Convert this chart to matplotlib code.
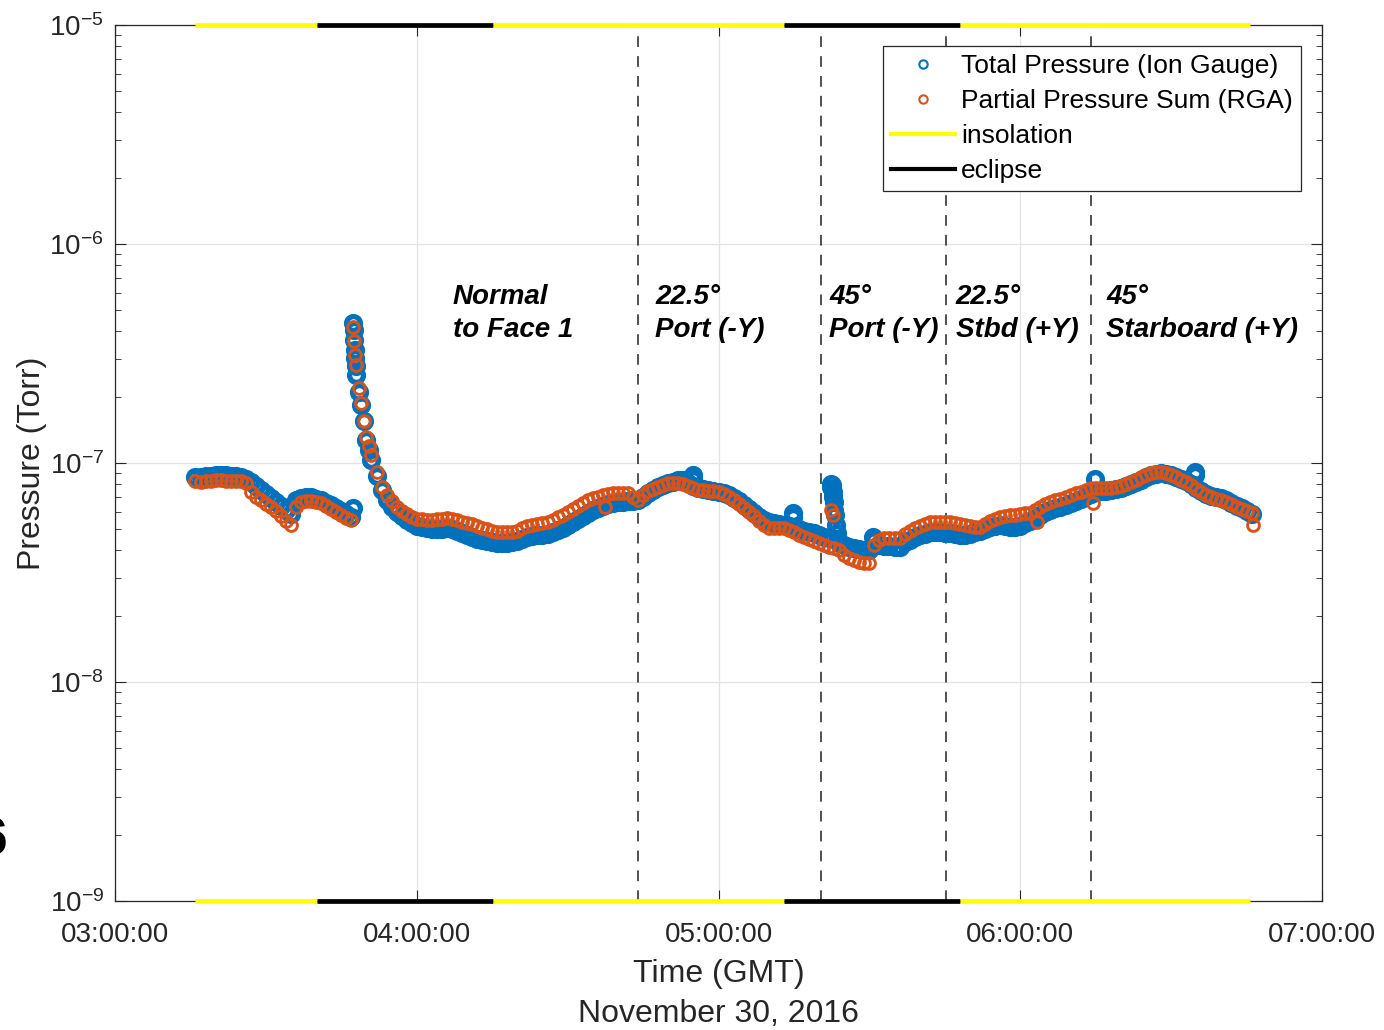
import numpy as np
import matplotlib.pyplot as plt
from matplotlib.lines import Line2D
from matplotlib.ticker import LogLocator, NullFormatter, FixedLocator

plt.rcParams['font.family'] = ['Liberation Sans', 'DejaVu Sans']
plt.rcParams['mathtext.fontset'] = 'custom'
plt.rcParams['mathtext.rm'] = 'Liberation Sans'
plt.rcParams['mathtext.it'] = 'Liberation Sans:italic'
plt.rcParams['mathtext.bf'] = 'Liberation Sans:bold'

# Время отсчитывается в минутах от 03:00:00, давление в единицах 1e-8 Торр
t_start = 16
t_end = 226

ion_gauge_a = [8.63, 8.63, 8.72, 8.72, 8.81, 8.81, 8.81, 8.72, 8.72, 8.63,
               8.45, 8.19, 7.85, 7.53, 7.22, 6.92, 6.63, 6.36, 6.10, 5.84,
               6.77, 6.92, 6.99, 6.99, 6.85, 6.77, 6.56, 6.43, 6.23, 6.03,
               5.84, 5.66]
ion_gauge_b = [25.2, 18.4, 12.7, 10.3, 8.72, 7.53, 6.77, 6.29, 5.97, 5.72,
               5.48, 5.31, 5.15, 5.09, 5.04, 4.99, 4.99, 4.99, 5.04, 4.99,
               4.88, 4.78, 4.68, 4.58, 4.49, 4.44, 4.39, 4.35, 4.30, 4.30,
               4.30, 4.35, 4.39, 4.49, 4.58, 4.63, 4.68, 4.68, 4.73, 4.83,
               4.93, 5.04, 5.20, 5.37, 5.54, 5.72, 5.90, 6.10, 6.23, 6.36,
               6.49, 6.56, 6.63, 6.63, 6.70, 6.70, 6.77, 6.99, 7.29, 7.53,
               7.77, 7.93, 8.10, 8.19, 8.36, 8.36, 8.10, 7.85, 7.69, 7.61,
               7.53, 7.45, 7.37, 7.29, 7.14, 6.92, 6.70, 6.43, 6.16, 5.90,
               5.66, 5.48, 5.37, 5.31, 5.26, 5.20, 5.15, 5.04, 4.99, 4.88,
               4.83, 4.78, 4.68, 4.58, 4.53, 6.10, 4.30, 4.21, 4.13, 4.08,
               4.04, 4.00, 4.00, 4.44, 4.21, 4.17, 4.17, 4.13, 4.13, 4.35,
               4.44, 4.58, 4.68, 4.73, 4.83, 4.83, 4.83, 4.78, 4.78, 4.73,
               4.68, 4.68, 4.73, 4.83, 4.88, 4.99, 5.09, 5.15, 5.20, 5.15,
               5.09, 5.09, 5.15, 5.31, 5.43, 5.60, 5.78, 5.97, 6.10, 6.23,
               6.29, 6.43, 6.56, 6.70, 6.85, 7.07, 7.22, 7.37, 7.45, 7.45,
               7.53, 7.61, 7.69, 7.85, 8.02, 8.19, 8.36, 8.63, 8.81, 8.91,
               9.00, 8.91, 8.81, 8.63, 8.45, 8.27, 8.02, 7.69, 7.45, 7.22,
               7.07, 6.99, 6.92, 6.77, 6.56, 6.36, 6.23, 6.03, 5.84]
# отдельные отсчёты: всплески и выбросы
ion_extra_t = [47.3, 47.4, 47.5, 47.6, 47.7, 47.8, 47.9, 48.5, 49.5, 50.5,
               114.9, 114.9, 134.8, 134.8, 142.3, 142.4, 142.5, 142.6, 142.7,
               142.8, 142.9, 143.2, 143.4, 143.6, 143.8, 150.7, 194.9, 214.8,
               214.8]
ion_extra_p = [6.23, 43.6, 40.5, 36.4, 32.8, 30.1, 27.7, 21.1, 15.5, 11.5,
               8.45, 8.81, 5.90, 5.66, 7.77, 8.02, 7.93, 7.69, 7.37,
               6.99, 6.63, 5.78, 5.20, 4.78, 4.44, 4.58, 8.45, 9.10,
               8.81]

rga_a = [8.27, 8.19, 8.27, 8.27, 8.36, 8.36, 8.27, 8.27, 8.27, 8.27,
         8.10, 7.37, 6.99, 6.77, 6.49, 6.29, 6.03, 5.72, 5.43, 5.20,
         6.29, 6.63, 6.70, 6.70, 6.63, 6.56, 6.36, 6.16, 5.97, 5.78,
         5.60, 5.48]
rga_b = [28.0, 18.8, 13.1, 10.9, 9.10, 7.77, 7.14, 6.70, 6.29, 6.03,
         5.84, 5.66, 5.54, 5.54, 5.48, 5.48, 5.54, 5.54, 5.60, 5.54,
         5.48, 5.37, 5.31, 5.26, 5.15, 5.04, 4.99, 4.88, 4.83, 4.83,
         4.83, 4.83, 4.88, 5.04, 5.15, 5.20, 5.26, 5.31, 5.37, 5.48,
         5.66, 5.78, 5.97, 6.16, 6.36, 6.56, 6.77, 6.92, 6.99, 7.14,
         7.22, 7.29, 7.29, 7.29, 7.29, 6.99, 6.77, 7.14, 7.45, 7.61,
         7.77, 7.93, 8.10, 8.10, 8.10, 8.02, 7.85, 7.69, 7.53, 7.53,
         7.45, 7.45, 7.37, 7.22, 6.99, 6.77, 6.49, 6.23, 5.97, 5.72,
         5.43, 5.20, 5.04, 5.04, 5.04, 5.04, 4.93, 4.83, 4.68, 4.58,
         4.49, 4.39, 4.30, 4.21, 4.13, 4.08, 4.00, 3.79, 3.68, 3.60,
         3.53, 3.49, 3.49, 4.21, 4.44, 4.53, 4.53, 4.53, 4.53, 4.73,
         4.88, 5.04, 5.15, 5.26, 5.37, 5.37, 5.37, 5.37, 5.37, 5.31,
         5.26, 5.20, 5.15, 5.09, 5.09, 5.26, 5.43, 5.54, 5.66, 5.72,
         5.78, 5.78, 5.84, 5.90, 5.90, 6.10, 6.29, 6.49, 6.63, 6.77,
         6.85, 6.99, 7.14, 7.29, 7.37, 7.53, 7.69, 7.69, 7.69, 7.69,
         7.69, 7.77, 7.85, 8.02, 8.19, 8.36, 8.63, 8.81, 9.00, 9.10,
         9.10, 9.00, 8.81, 8.63, 8.36, 8.19, 7.93, 7.61, 7.37, 7.14,
         6.99, 6.85, 6.77, 6.63, 6.49, 6.29, 6.16, 6.03, 5.90]
rga_extra_t = [47.4, 47.6, 47.8, 48.5, 49.5, 50.5, 97.4, 142.4, 142.7, 183.4, 194.5, 226.3]
rga_extra_p = [41.8, 36.0, 31.0, 22.0, 15.6, 12.0, 6.29, 6.10, 5.78, 5.37, 6.56, 5.20]

# освещённость / тень (минуты от 03:00)
sun_edges = [15.9, 40.2, 75.2, 133.0, 168.0, 225.7]
sun_state = ['insolation', 'eclipse', 'insolation', 'eclipse', 'insolation']

# смена ориентации
attitude_t = [104.0, 140.4, 165.2, 194.1]
attitude_labels = ['Normal\nto Face 1', '22.5°\nPort (-Y)', '45°\nPort (-Y)',
                   '22.5°\nStbd (+Y)', '45°\nStarboard (+Y)']
attitude_label_t = [67.2, 107.4, 142.0, 167.2, 197.1]

hour_ticks = [3, 4, 5, 6, 7]
hour_labels = ['03:00:00', '04:00:00', '05:00:00', '06:00:00', '07:00:00']

blue = '#0072BD'
orange = '#D95319'
gray = '#262626'

grid_t = np.arange(t_start, t_end + 1)
t_ion = np.concatenate([grid_t, ion_extra_t]) / 60 + 3
p_ion = np.array(ion_gauge_a + ion_gauge_b + ion_extra_p) * 1e-8
t_rga = np.concatenate([grid_t, rga_extra_t]) / 60 + 3
p_rga = np.array(rga_a + rga_b + rga_extra_p) * 1e-8

fig = plt.figure(figsize=(13.84, 10.30), dpi=100)
ax = fig.add_axes([0.0831, 0.1252, 0.8721, 0.8505])

ax.plot(t_ion, p_ion, 'o', mfc='none', mec=blue, ms=10, mew=3.8, zorder=3)
ax.plot(t_rga, p_rga, 'o', mfc='none', mec=orange, ms=8.5, mew=2.1, zorder=4)

for t in attitude_t:
    ax.axvline(3 + t / 60, color='#202020', lw=1.1, dashes=(7, 6), zorder=2)

for i in range(len(sun_state)):
    c = 'yellow' if sun_state[i] == 'insolation' else 'black'
    xs = [3 + sun_edges[i] / 60, 3 + sun_edges[i + 1] / 60]
    for yy in (1e-5, 1e-9):
        ax.plot(xs, [yy, yy], color=c, lw=3.4, solid_capstyle='butt',
                clip_on=False, zorder=6)

for t, txt in zip(attitude_label_t, attitude_labels):
    ax.text(3 + t / 60, 6.6e-7, txt, fontsize=20, fontweight='bold',
            fontstyle='italic', va='top', ha='left', linespacing=1.38)

ax.set_yscale('log')
ax.set_ylim(1e-9, 1e-5)
ax.set_xlim(3, 7)
ax.xaxis.set_major_locator(FixedLocator(hour_ticks))
ax.set_xticklabels(hour_labels)
ax.yaxis.set_major_locator(LogLocator(base=10, numticks=10))
ax.yaxis.set_minor_locator(LogLocator(base=10, subs=np.arange(2, 10), numticks=50))
ax.yaxis.set_minor_formatter(NullFormatter())

ax.tick_params(which='both', direction='in', top=True, right=True, colors=gray,
               labelcolor=gray, labelsize=20)
ax.tick_params(which='major', length=8, width=0.8)
ax.tick_params(which='minor', length=4, width=0.6)
ax.tick_params(axis='x', pad=15)
ax.tick_params(axis='y', pad=8)
for s in ax.spines.values():
    s.set_color(gray)
    s.set_linewidth(0.9)
ax.grid(True, which='major', color='#e3e3e3', lw=0.9)
ax.set_axisbelow(True)

ax.set_ylabel('Pressure (Torr)', fontsize=23, color=gray, labelpad=2)
ax.set_xlabel('Time (GMT)\nNovember 30, 2016', fontsize=23, color=gray,
              labelpad=8, linespacing=1.45)

handles = [
    Line2D([], [], ls='none', marker='o', mfc='none', mec=blue, ms=6, mew=1.5),
    Line2D([], [], ls='none', marker='o', mfc='none', mec=orange, ms=6, mew=1.5),
    Line2D([], [], color='yellow', lw=3),
    Line2D([], [], color='black', lw=3),
]
names = ['Total Pressure (Ion Gauge)', 'Partial Pressure Sum (RGA)', 'insolation', 'eclipse']
leg = ax.legend(handles, names, loc='upper right', bbox_to_anchor=(0.9826, 0.976),
                fontsize=19, frameon=True, fancybox=False, edgecolor=gray,
                framealpha=1, borderpad=0.3, labelspacing=0.42,
                handlelength=2.4, handletextpad=0.25, borderaxespad=0)
leg.get_frame().set_linewidth(0.9)
leg.set_zorder(7)

fig.text(7 / 1384, 1 - 841 / 1030, '6', fontsize=37, fontweight='bold',
         ha='right', va='center', color='black')

fig.savefig('out.png', dpi=100)
